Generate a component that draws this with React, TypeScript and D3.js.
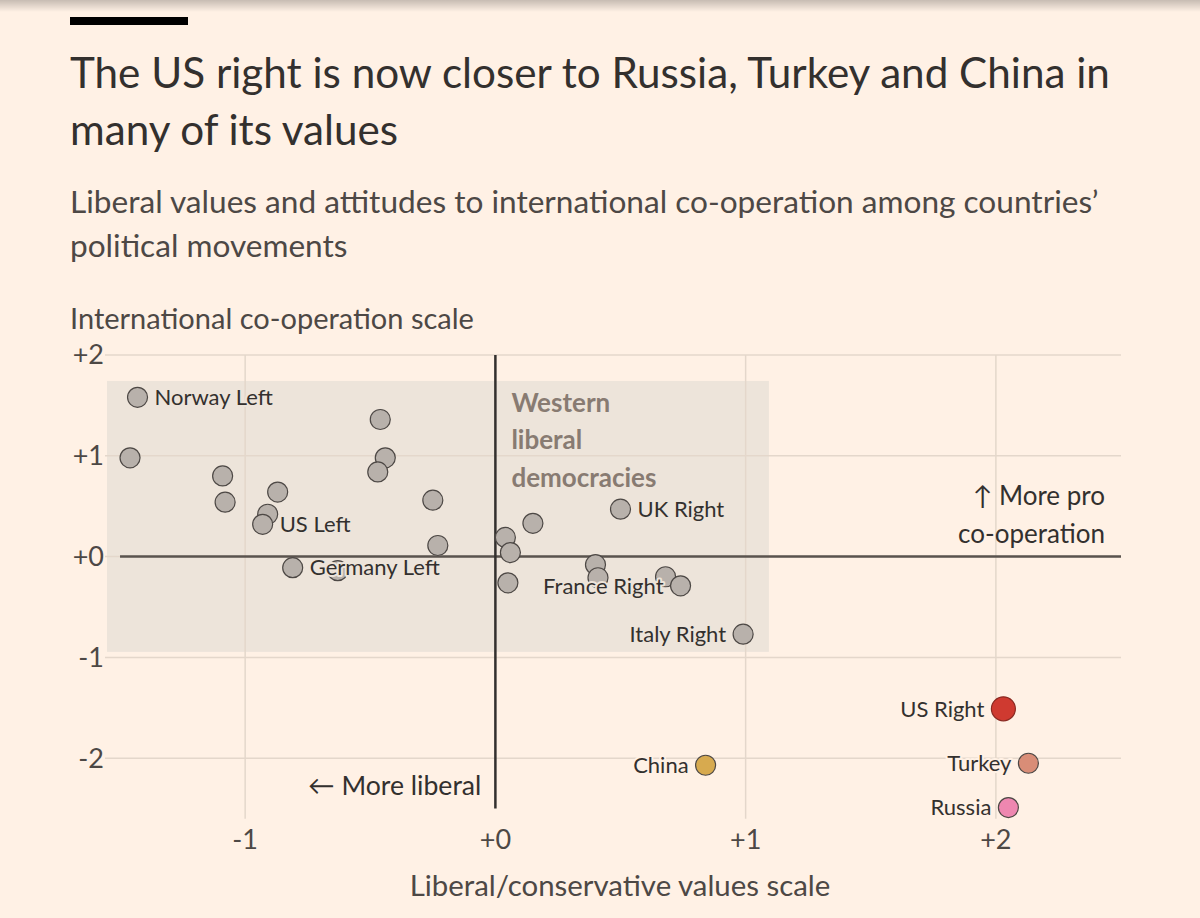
import * as d3 from "d3"

// movements: name shown on chart ("" = no label), side of label
const names = [
  "Norway Left", "", "", "", "", "", "US Left", "", "", "", "", "",
  "Germany Left", "", "", "", "", "", "UK Right", "", "", "", "France Right", "Italy Right",
  "China", "US Right", "Turkey", "Russia",
]
const liberalScores = [
  -1.43, -1.46, -1.09, -1.08, -0.87, -0.91, -0.93, -0.46, -0.44, -0.47, -0.25, -0.23,
  -0.81, -0.63, 0.04, 0.06, 0.15, 0.05, 0.5, 0.4, 0.41, 0.68, 0.74, 0.99,
  0.84, 2.03, 2.13, 2.05,
]
const coopScores = [
  1.58, 0.98, 0.8, 0.54, 0.64, 0.42, 0.32, 1.36, 0.98, 0.84, 0.56, 0.11,
  -0.11, -0.14, 0.19, 0.04, 0.33, -0.26, 0.47, -0.08, -0.21, -0.2, -0.29, -0.77,
  -2.07, -1.51, -2.05, -2.49,
]
const labelSides = [
  "right", "", "", "", "", "", "right", "", "", "", "", "",
  "right", "", "", "", "", "", "right", "", "", "", "left", "left",
  "left", "left", "left", "left",
]
const groups = [
  "west", "west", "west", "west", "west", "west", "west", "west", "west", "west", "west", "west",
  "west", "west", "west", "west", "west", "west", "west", "west", "west", "west", "west", "west",
  "China", "US Right", "Turkey", "Russia",
]

const xTicks = [-1, 0, 1, 2]
const yTicks = [2, 1, 0, -1, -2]

// "Western liberal democracies" shaded region, in data units
const westBoxX = [-1.552, 1.093]
const westBoxY = [1.743, -0.945]

const BG = "#fff1e5"
const BOX = "#ede4da"
const INK = "#33302e"
const MID = "#4d4845"

const colors: Record<string, string> = {
  west: "#b8b1ab",
  "US Right": "#cf3a30",
  Turkey: "#d98d77",
  Russia: "#ee87b0",
  China: "#d7aa4f",
}

const font = "Lato, 'Noto Sans', sans-serif"
const fmt = (v: number) => (v < 0 ? `${v}` : `+${v}`)

export default function App() {
  const width = 1200
  const height = 918

  const x = d3.scaleLinear().domain([-1.6, 2.5]).range([95, 1121])
  const y = d3.scaleLinear().domain([-2.5, 2]).range([808.6, 355])

  const points = names.map((name, i) => ({
    name,
    x: liberalScores[i],
    y: coopScores[i],
    side: labelSides[i],
    group: groups[i],
  }))

  const inBox = (p: { x: number; y: number }) =>
    p.x > westBoxX[0] && p.x < westBoxX[1] && p.y < westBoxY[0] && p.y > westBoxY[1]

  return (
    <svg
      width={width}
      height={height}
      style={{ position: "absolute", left: 0, top: 0, fontFamily: font }}
    >
      <defs>
        <linearGradient id="topShade" x1="0" y1="0" x2="0" y2="1">
          <stop offset="0%" stopColor="#000" stopOpacity={0.22} />
          <stop offset="100%" stopColor="#000" stopOpacity={0} />
        </linearGradient>
      </defs>
      <rect width={width} height={height} fill={BG} />
      <rect width={width} height={12} fill="url(#topShade)" />
      <rect x={70} y={17} width={118} height={8} fill="#000" />

      <text x={70} y={88} fontSize={42.2} fill={INK}>
        The US right is now closer to Russia, Turkey and China in
      </text>
      <text x={70} y={145} fontSize={42.2} fill={INK}>
        many of its values
      </text>
      <text x={70} y={213} fontSize={31.6} fill={MID}>
        Liberal values and attitudes to international co-operation among countries’
      </text>
      <text x={70} y={257} fontSize={31.6} fill={MID}>
        political movements
      </text>
      <text x={70} y={329} fontSize={29} fill={MID}>
        International co-operation scale
      </text>

      {/* shaded region */}
      <rect
        x={x(westBoxX[0])}
        y={y(westBoxY[0])}
        width={x(westBoxX[1]) - x(westBoxX[0])}
        height={y(westBoxY[1]) - y(westBoxY[0])}
        fill={BOX}
      />

      {/* grid */}
      {yTicks.map((t) => (
        <line
          key={`gy${t}`}
          x1={105}
          x2={x(2.5)}
          y1={y(t)}
          y2={y(t)}
          stroke="#e4d7cb"
          strokeWidth={1.5}
        />
      ))}
      {xTicks
        .filter((t) => t !== 0)
        .map((t) => (
          <line
            key={`gx${t}`}
            x1={x(t)}
            x2={x(t)}
            y1={y(2)}
            y2={y(-2.6)}
            stroke="#e4d7cb"
            strokeWidth={1.5}
          />
        ))}

      {/* zero lines */}
      <line x1={x(-1.5)} x2={x(2.5)} y1={y(0)} y2={y(0)} stroke="#5a534e" strokeWidth={2.5} />
      <line x1={x(0)} x2={x(0)} y1={y(2)} y2={y(-2.5)} stroke="#33302e" strokeWidth={2.5} />

      {/* tick labels */}
      {yTicks.map((t) => (
        <text key={`ty${t}`} x={104} y={y(t)} dy="0.35em" textAnchor="end" fontSize={27} fill={MID}>
          {fmt(t)}
        </text>
      ))}
      {xTicks.map((t) => (
        <text key={`tx${t}`} x={x(t)} y={849} textAnchor="middle" fontSize={27} fill={MID}>
          {fmt(t)}
        </text>
      ))}
      <text x={620} y={896} textAnchor="middle" fontSize={29.4} fill={MID}>
        Liberal/conservative values scale
      </text>

      {/* annotations */}
      <text x={x(0) + 16} fontSize={26} fontWeight={700} fill="#887b72">
        <tspan x={x(0) + 16} y={412}>Western</tspan>
        <tspan x={x(0) + 16} y={449}>liberal</tspan>
        <tspan x={x(0) + 16} y={487}>democracies</tspan>
      </text>
      <text x={x(0) - 14} y={795} textAnchor="end" fontSize={26.6} fill={INK}>
        ← More liberal
      </text>
      <text textAnchor="end" fontSize={26} fill={INK}>
        <tspan x={1105} y={505}>↑ More pro</tspan>
        <tspan x={1105} y={543}>co-operation</tspan>
      </text>

      {/* points */}
      {points.map((p, i) => {
        const r = p.group === "US Right" ? 12 : 10
        return (
          <circle
            key={`p${i}`}
            cx={x(p.x)}
            cy={y(p.y)}
            r={r}
            fill={colors[p.group]}
            stroke={p.group === "US Right" ? "#8a2a22" : "#4d4845"}
            strokeWidth={1.2}
          />
        )
      })}

      {/* labels */}
      {points
        .filter((p) => p.name)
        .map((p) => {
          const r = p.group === "US Right" ? 12 : 10
          const off = r + 7
          const right = p.side === "right"
          return (
            <text
              key={`l${p.name}`}
              x={x(p.x) + (right ? off : -off)}
              y={y(p.y)}
              dy="0.35em"
              textAnchor={right ? "start" : "end"}
              fontSize={22}
              fill={INK}
              stroke={inBox(p) ? BOX : BG}
              strokeWidth={4}
              paintOrder="stroke"
              strokeLinejoin="round"
            >
              {p.name}
            </text>
          )
        })}
    </svg>
  )
}
